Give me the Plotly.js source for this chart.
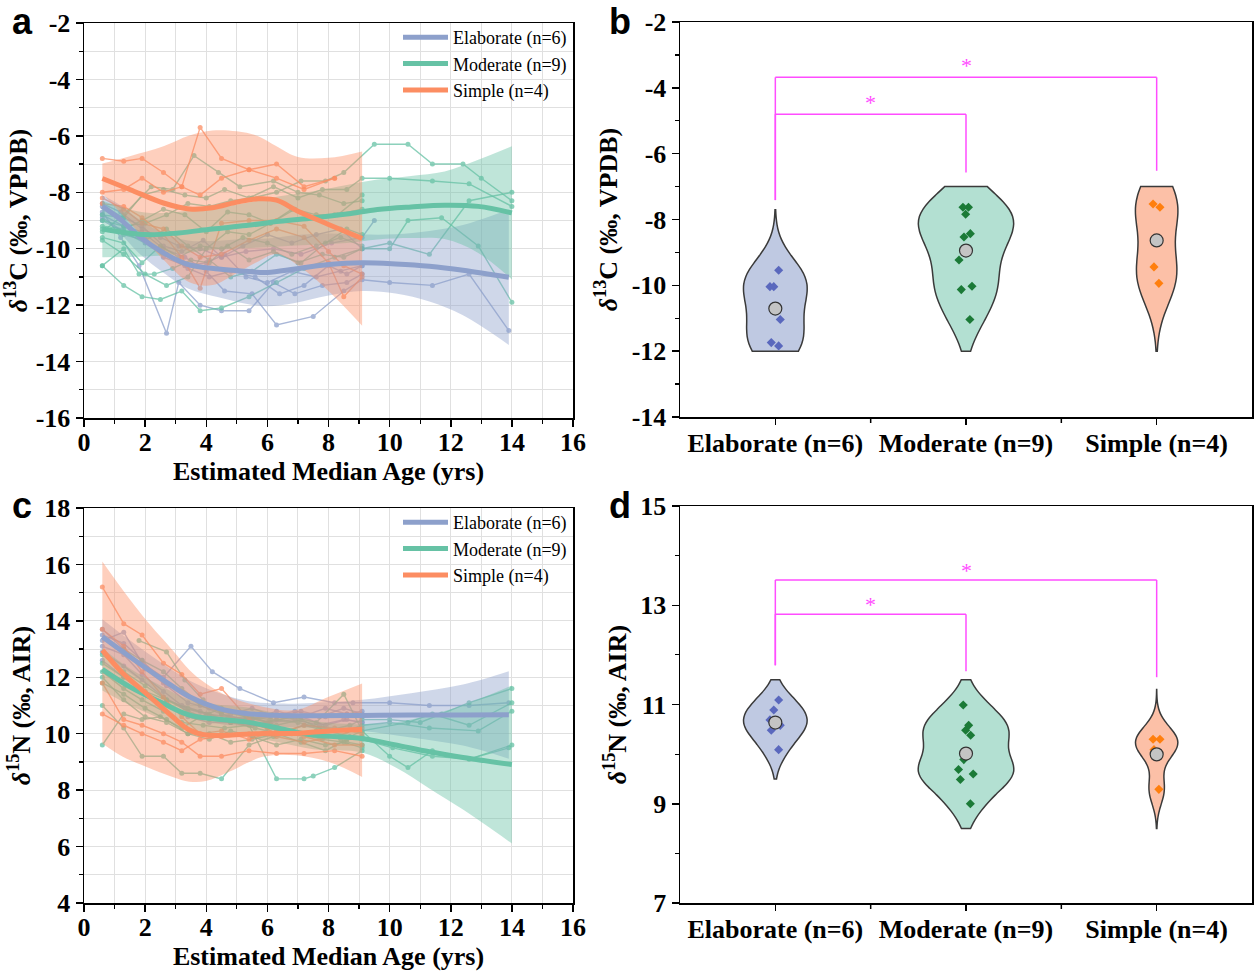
<!DOCTYPE html>
<html>
<head>
<meta charset="utf-8">
<script src="https://cdn.plot.ly/plotly-3.0.1.min.js"></script>
<style>
  body { margin: 0; background: #fff; }
  #chart { width: 1256px; height: 974px; }
</style>
</head>
<body>
<div id="chart"></div>
<script>
// ---- categories
const groups = ['Elaborate (n=6)', 'Moderate (n=9)', 'Simple (n=4)']

// ---- tick labels
const ageTicks = [0, 2, 4, 6, 8, 10, 12, 14, 16]
const c13TicksA = [-16, -14, -12, -10, -8, -6, -4, -2]
const c13TicksB = [-14, -12, -10, -8, -6, -4, -2]
const n15TicksC = [4, 6, 8, 10, 12, 14, 16, 18]
const n15TicksD = [7, 9, 11, 13, 15]

// ---- panel a: individual d13C series (age in yrs, value)
const c13Elaborate = [
  {age: [0.6,1.2,1.8,2.7,3.1,3.8,4.5,5.4,6.2,6.9,7.8,8.6,9.1], v: [-8.7,-9.6,-10.6,-13.0,-11.2,-12.0,-12.2,-12.2,-11.2,-11.6,-11.3,-11.2,-10.9]},
  {age: [0.6,1.3,1.9,2.6,3.3,4.0,4.6,5.5,6.3,7.5,8.5,9.1,10.0,11.4,12.6,13.9], v: [-8.8,-9.2,-9.4,-10.0,-10.3,-10.8,-11.5,-11.6,-12.7,-12.4,-11.5,-11.1,-11.2,-11.3,-10.9,-12.9]},
  {age: [0.6,1.3,1.9,2.6,3.2,3.9,4.5,5.3,6.2,7.1,8.1,9.1,9.5], v: [-8.5,-8.9,-9.2,-9.9,-10.1,-9.7,-10.3,-10.1,-10.0,-10.2,-9.8,-9.6,-9.0]},
  {age: [0.6,1.3,2.0,2.6,3.3,4.0,4.6,5.3,6.0,6.8,7.6,8.4,9.1], v: [-9.0,-9.4,-9.6,-10.3,-10.6,-10.5,-10.2,-11.0,-11.2,-10.8,-11.0,-10.8,-10.6]},
  {age: [0.6,1.2,1.9,2.5,3.1,3.8,4.5,5.2,6.0,6.8,7.6,8.4,9.1], v: [-8.4,-8.7,-9.3,-9.6,-9.9,-10.0,-10.3,-9.9,-9.5,-9.8,-9.5,-9.3,-10.0]},
  {age: [0.6,1.3,2.0,2.7,3.4,4.1,4.8,5.6,6.4,7.2,8.0,8.6,9.1], v: [-8.9,-9.4,-9.8,-10.2,-10.7,-11.0,-10.8,-11.0,-11.6,-11.3,-10.6,-10.9,-10.6]}
]
const c13Moderate = [
  {age: [0.6,1.3,2.0,2.7,3.4,4.1,4.8,5.5,6.3,7.1,7.9,8.5,9.5,10.6,11.4,12.4,13.0,14.0], v: [-9.0,-9.2,-9.1,-8.8,-8.4,-8.5,-8.3,-8.2,-8.0,-7.6,-7.6,-7.3,-6.3,-6.3,-7.0,-7.0,-7.5,-8.3]},
  {age: [0.6,1.3,1.9,2.6,3.3,4.0,4.6,5.4,6.2,7.0,7.8,8.6,9.1,10.0,11.4,12.6,14.0], v: [-8.8,-8.9,-8.1,-7.9,-8.1,-8.2,-7.9,-8.2,-7.8,-8.2,-7.9,-7.9,-7.5,-7.5,-7.6,-7.7,-8.5]},
  {age: [0.6,1.3,1.9,2.5,3.2,3.8,4.5,5.4,6.3,7.2,8.2,9.1,10.0,10.6,11.7,12.9,14.0], v: [-10.6,-11.3,-11.7,-11.8,-11.5,-12.2,-12.1,-11.7,-11.2,-10.7,-10.3,-10.0,-10.0,-9.0,-8.9,-9.9,-11.9]},
  {age: [0.6,1.3,1.8,2.3,2.9,3.5,4.1,4.7,5.4,6.2,7.0,7.8,8.5,9.1,10.0,11.3,12.6,14.0], v: [-10.6,-10.0,-10.9,-10.9,-10.7,-10.4,-10.5,-9.9,-10.4,-10.1,-10.5,-10.2,-10.3,-10.0,-9.8,-10.2,-8.3,-8.0]},
  {age: [0.6,1.3,2.2,2.9,3.6,4.4,5.1,6.2,7.0,7.7,8.5,9.1], v: [-9.4,-8.8,-7.8,-7.9,-6.7,-7.3,-7.8,-7.6,-8.0,-8.1,-8.4,-8.3]},
  {age: [0.6,1.3,1.9,2.6,3.3,4.0,4.7,5.4,6.1,6.8,7.5,8.2,9.1], v: [-9.2,-9.3,-9.0,-8.6,-8.8,-9.4,-8.7,-8.8,-9.1,-8.6,-8.9,-8.8,-8.6]},
  {age: [0.6,1.3,1.9,2.5,3.1,3.8,4.5,5.2,6.0,6.8,7.6,8.4,9.1], v: [-9.6,-9.8,-10.5,-9.9,-10.3,-9.9,-10.0,-9.6,-9.8,-10.2,-9.9,-9.6,-9.9]},
  {age: [0.6,1.3,2.0,2.7,3.4,4.0,4.7,5.4,6.1,6.9,7.6,8.3,9.1], v: [-9.7,-10.2,-10.9,-11.3,-11.0,-10.0,-9.4,-9.5,-9.1,-8.6,-8.8,-8.8,-8.1]},
  {age: [0.6,1.3,2.0,2.7,3.4,4.1,4.8,5.5,6.3,7.1,7.9,8.6,9.1], v: [-9.3,-9.5,-9.7,-9.3,-9.9,-10.4,-11.0,-10.8,-10.2,-10.5,-9.8,-9.3,-9.5]}
]
const c13Simple = [
  {age: [0.6,1.3,1.9,2.6,3.2,3.8,4.5,5.4,6.3,7.2,8.2], v: [-6.8,-6.9,-6.8,-7.3,-7.8,-5.7,-6.8,-7.2,-7.0,-7.8,-7.5]},
  {age: [0.6,1.3,1.9,2.6,3.2,3.8,4.5,5.4,6.3,7.2,8.2], v: [-8.0,-7.9,-7.5,-8.0,-7.8,-8.1,-7.5,-7.2,-7.5,-7.9,-7.5]},
  {age: [0.6,1.3,1.9,2.6,3.2,3.8,4.5,5.4,6.3,7.2,8.0,8.5,9.1], v: [-8.4,-8.5,-8.9,-9.5,-10.3,-11.4,-9.1,-9.0,-9.0,-9.2,-10.1,-10.6,-10.9]},
  {age: [0.6,1.3,1.9,2.6,3.2,3.8,4.5,5.4,6.3,7.2,8.0,8.5,9.1], v: [-8.2,-8.6,-9.1,-9.3,-9.9,-10.3,-10.2,-9.7,-9.3,-9.6,-10.5,-11.7,-11.0]}
]

// ---- panel a: smoothed fits with confidence bands
const c13FitAgeE = [0.6,1.2,1.8,2.6,3.4,4.4,5.3,6.0,6.9,8.0,9.1,10.2,11.3,12.4,13.9]
const c13FitE    = [-8.50,-8.97,-9.56,-10.15,-10.56,-10.72,-10.80,-10.84,-10.72,-10.56,-10.50,-10.54,-10.62,-10.76,-11.01]
const c13UpE     = [-8.10,-8.47,-8.96,-9.45,-9.71,-9.72,-9.65,-9.64,-9.52,-9.46,-9.50,-9.49,-9.37,-9.16,-8.61]
const c13LoE     = [-8.90,-9.47,-10.16,-10.85,-11.41,-11.72,-11.95,-12.04,-11.92,-11.66,-11.50,-11.59,-11.87,-12.36,-13.41]
const c13FitAgeM = [0.6,2.0,3.1,4.2,5.3,6.4,7.5,8.6,9.6,10.7,11.8,12.9,14.0]
const c13FitM    = [-9.30,-9.50,-9.44,-9.30,-9.18,-9.03,-8.91,-8.77,-8.61,-8.52,-8.46,-8.50,-8.73]
const c13UpM     = [-8.30,-8.72,-8.69,-8.56,-8.38,-8.14,-7.96,-7.74,-7.55,-7.42,-7.26,-6.85,-6.37]
const c13LoM     = [-10.30,-10.28,-10.19,-10.04,-9.98,-9.92,-9.86,-9.80,-9.67,-9.62,-9.66,-10.15,-11.09]
const c13FitAgeS = [0.6,1.5,2.6,3.45,4.2,5.0,5.7,6.3,7.0,8.0,9.1]
const c13FitS    = [-7.51,-7.90,-8.38,-8.59,-8.55,-8.35,-8.23,-8.28,-8.67,-9.14,-9.64]
const c13UpS     = [-6.98,-6.72,-6.37,-5.99,-5.81,-5.84,-6.01,-6.37,-6.75,-6.78,-6.55]
const c13LoS     = [-8.04,-9.08,-10.39,-11.19,-11.29,-10.86,-10.45,-10.19,-10.59,-11.50,-12.73]

// ---- panel b: per-individual mean d13C
const c13Elab = [-9.54, -10.04, -10.04, -11.04, -11.74, -11.84]
const c13Mod  = [-7.63, -7.63, -7.84, -8.43, -8.53, -9.23, -10.03, -10.13, -11.04]
const c13Simp = [-7.53, -7.63, -9.44, -9.94]
const c13Spans = [[-12, -7.7], [-12, -7], [-12, -7]]

// ---- panel c: individual d15N series
const n15Elaborate = [
  {age: [0.6,1.3,1.9,2.6,3.5,4.2,5.1,6.2,7.2,8.2,8.8,10.0,11.3,12.6,13.9], v: [13.3,13.6,12.5,12.0,13.1,12.2,11.6,11.1,11.3,11.1,11.1,11.1,11.0,11.0,11.1]},
  {age: [0.6,1.3,1.9,2.6,3.2,3.8,4.5,5.3,6.1,6.9,7.7,8.5,9.1], v: [13.5,13.2,12.6,11.8,11.5,11.0,10.7,10.5,10.6,10.8,10.6,10.9,10.7]},
  {age: [0.6,1.3,1.9,2.6,3.2,3.8,4.5,5.3,6.1,6.9,7.7,8.5,9.1], v: [13.1,12.8,12.1,11.5,11.0,10.8,10.5,10.6,10.4,10.5,10.3,10.5,10.4]},
  {age: [0.6,1.3,1.9,2.6,3.3,4.0,4.7,5.5,6.3,7.1,7.9,8.6,9.1], v: [12.9,12.4,11.9,11.3,10.9,10.7,10.6,10.5,10.8,10.6,10.9,10.7,10.8]},
  {age: [0.6,1.3,2.0,2.7,3.4,4.1,4.8,5.5,6.3,7.1,7.9,8.6,9.1], v: [13.7,13.0,12.3,11.7,11.1,10.9,10.7,10.9,10.6,10.8,10.6,10.7,10.6]},
  {age: [0.6,1.3,2.0,2.7,3.4,4.1,4.8,5.5,6.3,7.1,7.9,8.6,9.1], v: [12.6,12.0,11.4,11.1,10.6,10.4,10.4,10.3,10.5,10.6,10.3,10.5,10.4]}
]
const n15Moderate = [
  {age: [0.6,1.3,1.9,2.5,3.2,3.8,4.5,5.3,6.0,6.8,7.6,8.5,9.1,10.0,10.6,11.4,12.6,14.0], v: [9.6,10.7,10.5,10.6,10.2,10.6,10.9,10.6,10.4,10.6,10.4,11.4,10.1,9.2,8.8,9.4,9.1,9.6]},
  {age: [1.8,2.7,3.3,3.9,4.5,5.2,6.0,6.8,7.6,8.4,9.1], v: [13.3,12.9,11.9,11.2,10.7,10.4,10.2,10.0,10.1,9.8,9.9]},
  {age: [0.6,1.3,1.9,2.6,3.2,3.8,4.5,5.4,6.2,7.0,7.8,8.5,9.1], v: [11.0,10.2,9.2,9.2,8.6,8.6,8.4,9.6,9.9,10.0,9.8,9.7,9.5]},
  {age: [0.6,1.3,1.9,2.6,3.2,3.9,4.6,5.4,6.3,7.2,7.5,8.2,9.1], v: [12.2,11.6,11.2,10.8,10.4,10.3,10.2,10.3,8.4,8.4,8.5,8.8,9.4]},
  {age: [1.3,1.9,2.6,3.2,3.8,4.5,5.3,6.1,7.0,7.8,8.6,9.1,10.0,11.3,12.9,14.0], v: [13.0,12.6,12.2,11.6,11.1,10.8,10.6,10.5,10.4,10.2,10.1,10.3,10.4,10.2,10.1,10.8]},
  {age: [0.6,1.3,2.0,2.7,3.4,4.1,4.8,5.5,6.3,7.1,7.9,8.7,9.1,10.0,11.0,11.7,12.6,14.0], v: [12.5,12.0,11.5,11.2,10.9,10.7,10.4,10.6,10.3,10.5,10.1,10.3,10.5,10.5,10.4,10.7,11.1,11.6]},
  {age: [0.6,1.3,2.0,2.7,3.4,4.1,4.8,5.5,6.3,7.1,7.9,8.6,9.1,10.1,11.4,12.6,13.9], v: [11.8,11.4,10.9,10.5,10.0,10.0,9.7,9.8,10.0,9.7,9.4,9.8,9.8,9.5,9.2,9.1,9.5]},
  {age: [0.6,1.3,2.0,2.7,3.4,4.1,4.8,5.6,6.4,7.2,8.0,8.7,9.1,10.6,11.4,12.6,14.0], v: [12.8,12.2,11.7,11.2,10.8,10.5,10.4,10.2,10.0,10.3,10.1,9.9,10.1,10.4,10.7,10.3,11.1]},
  {age: [0.6,1.3,2.0,2.7,3.4,4.1,4.8,5.5,6.3,7.1,7.9,8.6,9.1], v: [12.0,11.2,10.6,10.4,10.0,9.8,10.1,9.9,9.6,9.8,9.6,9.7,9.6]}
]
const n15Simple = [
  {age: [0.6,1.3,1.9,2.6,3.2,3.8,4.5,5.4,6.3,7.2,8.2,9.1], v: [15.2,13.9,13.5,12.5,12.1,11.4,11.6,10.5,10.0,10.3,10.2,10.0]},
  {age: [0.6,1.3,1.9,2.6,3.2,3.8,4.5,5.4,6.3,7.2,8.2,9.1], v: [13.7,13.1,12.2,11.3,10.6,10.0,10.1,9.8,10.1,9.9,9.6,9.6]},
  {age: [0.6,1.3,1.9,2.6,3.2,3.8,4.5,5.4,6.3,7.2,8.2,9.1], v: [11.8,10.5,10.3,10.0,9.7,9.2,9.2,9.4,9.3,9.3,9.4,9.2]},
  {age: [0.6,1.3,1.9,2.6,3.2,3.8,4.5,5.4,6.3,7.2,8.2,9.1], v: [10.7,10.3,10.0,9.7,9.4,9.8,9.9,10.0,9.9,9.7,9.9,10.2]}
]

// ---- panel c: smoothed fits with confidence bands
const n15FitAgeE = [0.6,1.5,2.6,3.45,4.4,5.3,6.4,7.5,9.1,10.7,12.4,13.9]
const n15FitE    = [13.44,12.73,11.90,11.31,10.90,10.72,10.65,10.64,10.65,10.66,10.66,10.67]
const n15UpE     = [14.06,13.31,12.46,11.89,11.45,11.17,11.07,11.09,11.20,11.43,11.74,12.21]
const n15LoE     = [12.82,12.15,11.34,10.73,10.35,10.27,10.23,10.21,10.10,9.87,9.58,9.11]
const n15FitAgeM = [0.6,1.5,2.6,3.45,4.4,5.3,6.4,7.5,9.1,10.2,11.3,12.4,14.0]
const n15FitM    = [12.28,11.66,11.07,10.66,10.51,10.42,10.19,9.95,9.83,9.60,9.36,9.16,8.91]
const n15UpM     = [13.03,12.31,11.65,11.21,11.03,10.94,10.69,10.45,10.33,10.40,10.66,11.01,11.71]
const n15LoM     = [11.53,11.01,10.49,10.11,9.99,9.90,9.69,9.45,9.33,8.80,8.06,7.31,6.11]
const n15FitAgeS = [0.6,1.27,2.03,2.9,3.45,3.99,4.75,5.84,6.92,8.01,9.1]
const n15FitS    = [12.96,12.14,11.43,10.60,10.13,9.95,9.95,10.01,10.01,10.10,10.15]
const n15UpS     = [16.10,15.09,14.03,12.96,12.26,11.78,11.31,10.96,10.84,11.31,11.78]
const n15LoS     = [9.65,9.18,8.83,8.47,8.30,8.32,8.65,9.18,9.24,9.00,8.47]

// ---- panel d: per-individual mean d15N
const n15Elab = [11.09, 10.89, 10.69, 10.58, 10.48, 10.09]
const n15Mod  = [10.99, 10.58, 10.48, 10.38, 9.89, 9.69, 9.60, 9.49, 9.00]
const n15Simp = [10.30, 10.30, 10.09, 9.29]
const n15Spans = [[9.5, 11.5], [8.5, 11.5], [8.5, 11.3]]

// ---- styles
const lineColors = ['#8da0cb', '#66c2a5', '#fc8d62']
const bandColors = ['rgba(141,160,203,0.42)', 'rgba(102,194,165,0.42)', 'rgba(252,141,98,0.42)']
const violinFill = ['#bfc9e2', '#b3e0d2', '#fcc0a7']
const dotColors = ['#5a68bd', '#1b7a37', '#ff7f0e']
const gridCol = '#e0e0e0'
const serif = 'Liberation Serif, Times New Roman, serif'
const tickFont = {family: serif, size: 26, color: '#000', weight: 'bold'}
const titleFont = {family: serif, size: 26, color: '#000', weight: 'bold'}
const legendFont = {family: serif, size: 18, color: '#000'}
const pink = '#ff4dff'

const W = 1256, H = 974
const px = v => v / W
const py = v => 1 - v / H

let traces = []

function addSeries(lines, gi, xa, ya) {
  for (const l of lines) {
    traces.push({
      x: l.age, y: l.v, xaxis: xa, yaxis: ya, type: 'scatter', mode: 'lines+markers',
      line: {color: lineColors[gi], width: 1.4}, marker: {color: lineColors[gi], size: 5},
      opacity: 0.75, showlegend: false, hoverinfo: 'skip'
    })
  }
}

function addBand(age, up, lo, gi, xa, ya) {
  traces.push({
    x: age, y: lo, xaxis: xa, yaxis: ya, type: 'scatter', mode: 'lines',
    line: {width: 0, shape: 'spline'}, showlegend: false, hoverinfo: 'skip'
  })
  traces.push({
    x: age, y: up, xaxis: xa, yaxis: ya, type: 'scatter', mode: 'lines', fill: 'tonexty',
    fillcolor: bandColors[gi], line: {width: 0, shape: 'spline'}, showlegend: false, hoverinfo: 'skip'
  })
}

function addFit(age, fit, gi, xa, ya, legend) {
  traces.push({
    x: age, y: fit, xaxis: xa, yaxis: ya, type: 'scatter', mode: 'lines',
    line: {color: lineColors[gi], width: 5, shape: 'spline', smoothing: 1},
    name: groups[gi], legend: legend, showlegend: true
  })
}

function addViolins(sets, spans, bws, xa, ya) {
  const maxN = Math.max(...sets.map(s => s.length))
  sets.forEach((vals, i) => {
    traces.push({
      type: 'violin', x: vals.map(() => groups[i]), y: vals, xaxis: xa, yaxis: ya,
      name: groups[i], spanmode: 'manual', span: spans[i], bandwidth: bws[i],
      scalemode: 'width', scalegroup: xa + '_' + i, width: 0.5 * vals.length / maxN,
      fillcolor: violinFill[i], line: {color: '#3a3a3a', width: 1.5},
      points: 'all', pointpos: 0, jitter: 0.2,
      marker: {symbol: 'diamond', size: 7, color: dotColors[i]},
      box: {visible: false}, meanline: {visible: false}, showlegend: false, hoveron: 'points'
    })
  })
  // group means
  traces.push({
    type: 'scatter', mode: 'markers', xaxis: xa, yaxis: ya,
    x: groups, y: sets.map(s => s.reduce((a, b) => a + b, 0) / s.length),
    marker: {symbol: 'circle', size: 13, color: '#c4c4c4', line: {color: '#333', width: 1.2}},
    showlegend: false
  })
}

// panel a
addSeries(c13Elaborate, 0, 'x', 'y')
addSeries(c13Moderate, 1, 'x', 'y')
addSeries(c13Simple, 2, 'x', 'y')
addBand(c13FitAgeE, c13UpE, c13LoE, 0, 'x', 'y')
addBand(c13FitAgeM, c13UpM, c13LoM, 1, 'x', 'y')
addBand(c13FitAgeS, c13UpS, c13LoS, 2, 'x', 'y')
addFit(c13FitAgeE, c13FitE, 0, 'x', 'y', 'legend')
addFit(c13FitAgeM, c13FitM, 1, 'x', 'y', 'legend')
addFit(c13FitAgeS, c13FitS, 2, 'x', 'y', 'legend')

// panel c
addSeries(n15Elaborate, 0, 'x3', 'y3')
addSeries(n15Moderate, 1, 'x3', 'y3')
addSeries(n15Simple, 2, 'x3', 'y3')
addBand(n15FitAgeE, n15UpE, n15LoE, 0, 'x3', 'y3')
addBand(n15FitAgeM, n15UpM, n15LoM, 1, 'x3', 'y3')
addBand(n15FitAgeS, n15UpS, n15LoS, 2, 'x3', 'y3')
addFit(n15FitAgeE, n15FitE, 0, 'x3', 'y3', 'legend2')
addFit(n15FitAgeM, n15FitM, 1, 'x3', 'y3', 'legend2')
addFit(n15FitAgeS, n15FitS, 2, 'x3', 'y3', 'legend2')

// panels b, d
addViolins([c13Elab, c13Mod, c13Simp], c13Spans, [0.68, 0.7, 0.85], 'x2', 'y2')
addViolins([n15Elab, n15Mod, n15Simp], n15Spans, [0.3, 0.35, 0.3], 'x4', 'y4')

function axis(extra) {
  return Object.assign({
    showline: true, mirror: true, linecolor: '#000', linewidth: 1.5,
    ticks: 'outside', ticklen: 7, tickwidth: 1.5, tickcolor: '#000',
    tickfont: tickFont, zeroline: false, showgrid: false, fixedrange: true
  }, extra)
}
function minorTicks(grid) {
  return {tickmode: 'linear', tick0: 0, dtick: 1, ticks: 'outside', ticklen: 4, tickwidth: 1.2,
          tickcolor: '#000', showgrid: grid, gridcolor: gridCol, gridwidth: 1}
}
function arrTicks(vals) {
  return {tickmode: 'array', tickvals: vals, ticktext: vals.map(String)}
}

const domL = [px(84), px(573)], domR = [px(680), px(1252)]
const d13Title = '<i>δ</i><sup>13</sup>C (‰, VPDB)'
const d15Title = '<i>δ</i><sup>15</sup>N (‰, AIR)'
const ageTitle = {text: 'Estimated Median Age (yrs)', font: titleFont, standoff: 2}

const layout = {
  width: W, height: H, margin: {l: 0, r: 0, t: 0, b: 0},
  paper_bgcolor: '#fff', plot_bgcolor: '#fff', violinmode: 'overlay',
  font: {family: serif, color: '#000'},
  xaxis: axis(Object.assign({domain: domL, anchor: 'y', range: [0, 16], showgrid: true, gridcolor: gridCol,
    ticklabelstandoff: -7, minor: minorTicks(true), title: ageTitle}, arrTicks(ageTicks))),
  yaxis: axis(Object.assign({domain: [py(418), py(23)], anchor: 'x', range: [-16, -2], showgrid: true, gridcolor: gridCol,
    minor: minorTicks(true), title: {text: d13Title, font: titleFont, standoff: 6}}, arrTicks(c13TicksA))),
  xaxis2: axis({domain: domR, anchor: 'y2', type: 'category', categoryorder: 'array', categoryarray: groups,
    range: [-0.5, 2.5], ticklen: 6, ticklabelstandoff: -4}),
  yaxis2: axis(Object.assign({domain: [py(417), py(22)], anchor: 'x2', range: [-14, -2],
    minor: minorTicks(false), title: {text: d13Title, font: titleFont, standoff: 6}}, arrTicks(c13TicksB))),
  xaxis3: axis(Object.assign({domain: domL, anchor: 'y3', range: [0, 16], showgrid: true, gridcolor: gridCol,
    ticklabelstandoff: -7, minor: minorTicks(true), title: ageTitle}, arrTicks(ageTicks))),
  yaxis3: axis(Object.assign({domain: [py(903), py(508)], anchor: 'x3', range: [4, 18], showgrid: true, gridcolor: gridCol,
    minor: minorTicks(true), title: {text: d15Title, font: titleFont, standoff: 6}}, arrTicks(n15TicksC))),
  xaxis4: axis({domain: domR, anchor: 'y4', type: 'category', categoryorder: 'array', categoryarray: groups,
    range: [-0.5, 2.5], ticklen: 6, ticklabelstandoff: -4}),
  yaxis4: axis(Object.assign({domain: [py(903), py(506)], anchor: 'x4', range: [7, 15],
    minor: minorTicks(false), title: {text: d15Title, font: titleFont, standoff: 6}}, arrTicks(n15TicksD))),
  legend: {x: px(398), y: py(19), xanchor: 'left', yanchor: 'top', bgcolor: 'rgba(0,0,0,0)',
    font: legendFont, itemwidth: 45, tracegroupgap: 0, traceorder: 'normal'},
  legend2: {x: px(398), y: py(504), xanchor: 'left', yanchor: 'top', bgcolor: 'rgba(0,0,0,0)',
    font: legendFont, itemwidth: 45, tracegroupgap: 0, traceorder: 'normal'},
  shapes: [],
  annotations: []
}

// panel letters
const letterFont = {family: 'Liberation Sans, Arial, sans-serif', size: 36, color: '#000', weight: 'bold'}
;[['a', 22, 22], ['b', 620, 22], ['c', 22, 505], ['d', 620, 505]].forEach(([t, x, y]) => {
  layout.annotations.push({text: t, xref: 'paper', yref: 'paper', x: px(x), y: py(y),
    xanchor: 'center', yanchor: 'middle', showarrow: false, font: letterFont})
})

// half-way ticks between categories on the violin panels
;[['x2', 417], ['x4', 903]].forEach(([xa, base]) => {
  ;[0.5, 1.5].forEach(p => layout.shapes.push({type: 'line', xref: xa, yref: 'paper',
    x0: p, x1: p, y0: py(base), y1: py(base + 6), line: {color: '#000', width: 1.5}}))
})

// significance brackets
function bracket(xa, ya, i0, i1, yTop, yL, yR, yStar) {
  const a = groups.indexOf(groups[i0]), b = groups.indexOf(groups[i1])
  const ln = {color: pink, width: 1.5}
  layout.shapes.push({type: 'line', xref: xa, yref: ya, x0: a, x1: b, y0: yTop, y1: yTop, line: ln})
  layout.shapes.push({type: 'line', xref: xa, yref: ya, x0: a, x1: a, y0: yTop, y1: yL, line: ln})
  layout.shapes.push({type: 'line', xref: xa, yref: ya, x0: b, x1: b, y0: yTop, y1: yR, line: ln})
  layout.annotations.push({text: '*', xref: xa, yref: ya, x: (a + b) / 2, y: yStar, showarrow: false,
    font: {family: serif, size: 22, color: pink}, yanchor: 'middle'})
}
bracket('x2', 'y2', 0, 2, -3.68, -7.41, -6.52, -3.33)
bracket('x2', 'y2', 0, 1, -4.80, -7.41, -6.57, -4.45)
bracket('x4', 'y4', 0, 2, 13.51, 11.79, 11.55, 13.70)
bracket('x4', 'y4', 0, 1, 12.82, 11.79, 11.67, 13.01)

Plotly.newPlot('chart', traces, layout, {staticPlot: true, displayModeBar: false})
</script>
</body>
</html>
